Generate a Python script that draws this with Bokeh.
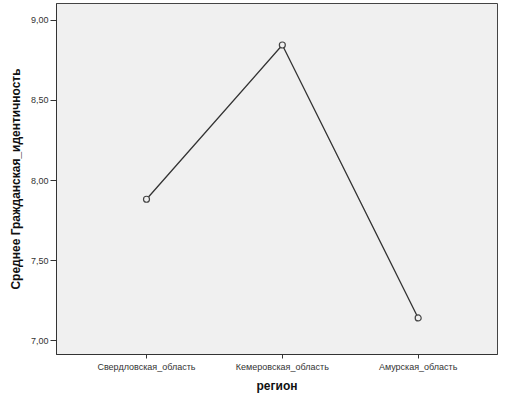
from bokeh.plotting import figure
from bokeh.models import FixedTicker, Range1d
from bokeh.embed import file_html
from bokeh.resources import INLINE

regions = ["Свердловская_область", "Кемеровская_область", "Амурская_область"]
means = [7.883, 8.846, 7.142]
y_ticks = [7.0, 7.5, 8.0, 8.5, 9.0]
y_tick_labels = ["7,00", "7,50", "8,00", "8,50", "9,00"]

xs = list(range(len(regions)))

p = figure(width=498, height=395, output_backend="svg", toolbar_location=None,
           x_range=Range1d(-0.6625, 2.584), y_range=Range1d(6.914, 9.105),
           min_border_left=56, min_border_right=1, min_border_top=3, min_border_bottom=37)

p.background_fill_color = "#f0f0f0"
p.border_fill_color = "white"
p.outline_line_color = "#444444"
p.outline_line_width = 1
p.xgrid.visible = False
p.ygrid.visible = False

p.line(xs, means, line_color="#333333", line_width=1.3)
p.scatter(xs, means, marker="circle", size=6, line_color="#444444",
          fill_color="#f0f0f0", line_width=1.2)

font = "Liberation Sans"
p.xaxis.ticker = FixedTicker(ticks=xs)
p.xaxis.major_label_overrides = {i: r for i, r in enumerate(regions)}
p.yaxis.ticker = FixedTicker(ticks=y_ticks)
p.yaxis.major_label_overrides = {t: l for t, l in zip(y_ticks, y_tick_labels)}

for ax in (p.xaxis, p.yaxis):
    ax.axis_line_color = "#333333"
    ax.major_tick_line_color = "#333333"
    ax.minor_tick_line_color = None
    ax.major_tick_in = 0
    ax.major_label_text_font = font
    ax.major_label_text_font_size = "9px"
    ax.major_label_text_color = "#333333"
    ax.axis_label_text_font = font
    ax.axis_label_text_font_size = "12px"
    ax.axis_label_text_font_style = "bold"
    ax.axis_label_text_color = "#111111"

p.xaxis.major_tick_out = 4
p.xaxis.major_label_standoff = 3
p.xaxis.axis_label = "регион"
p.xaxis.axis_label_standoff = 4
p.yaxis.major_tick_out = 6
p.yaxis.major_label_standoff = 2
p.yaxis.axis_label = "Среднее Гражданская_идентичность"
p.yaxis.axis_label_standoff = 5

open("out.html", "w").write(file_html(p, INLINE))
